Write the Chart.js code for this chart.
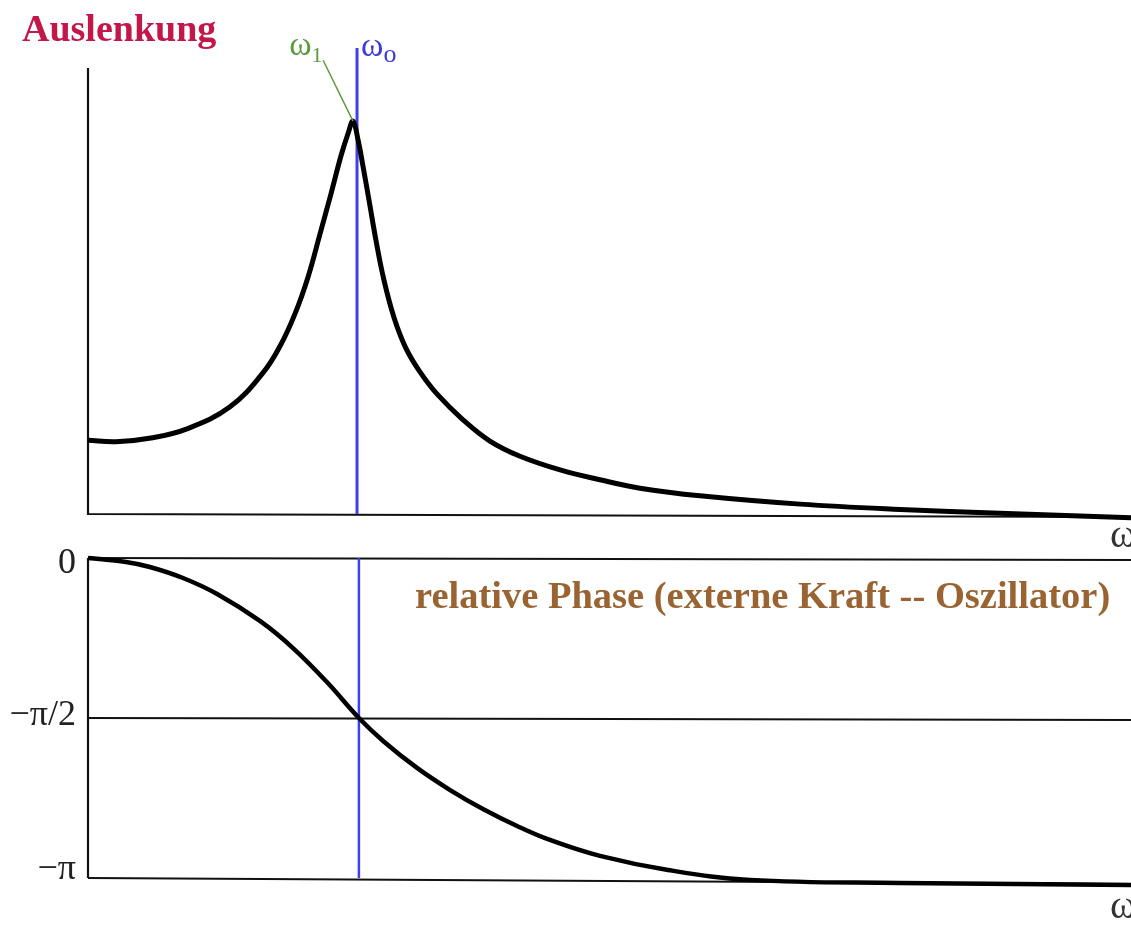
<!DOCTYPE html>
<html>
<head>
<meta charset="utf-8">
<script src="https://cdn.jsdelivr.net/npm/chart.js@4.4.1/dist/chart.umd.min.js"></script>
<style>
  html, body { margin: 0; padding: 0; background: #ffffff; }
  #top { position: absolute; left: 0; top: 0; width: 1131px; height: 560px; }
  #bottom { position: absolute; left: 0; top: 540px; width: 1131px; height: 385px; }
</style>
</head>
<body>
<div id="top"><canvas id="c1"></canvas></div>
<div id="bottom"><canvas id="c2"></canvas></div>
<script>
// ---- data (omega in units of omega0, amplitude in units of the static amplitude) ----
const omegaAmp = [0, 0.104, 0.234, 0.368, 0.528, 0.651, 0.714, 0.770, 0.818, 0.862, 0.903, 0.941, 0.967, 0.985,
  1.004, 1.022, 1.045, 1.071, 1.100, 1.138, 1.182, 1.234, 1.297, 1.394, 1.494, 1.606, 1.755, 1.903, 2.052, 2.275,
  2.647, 3.019, 3.390, 3.877];
const amplitude = [0.97, 0.95, 1.00, 1.12, 1.41, 1.86, 2.21, 2.64, 3.12, 3.68, 4.21, 4.72, 5.01, 5.17,
  4.92, 4.58, 4.12, 3.59, 3.08, 2.58, 2.18, 1.87, 1.58, 1.24, 0.96, 0.76, 0.58, 0.45, 0.34, 0.24,
  0.13, 0.06, 0.01, -0.05];

const omegaPhase = [0, 0.141, 0.230, 0.353, 0.480, 0.639, 0.762, 0.888, 1.007, 1.097, 1.223, 1.346, 1.468, 1.595,
  1.717, 1.903, 2.156, 2.461, 3.019, 3.877];
const phase = [0, -0.039, -0.088, -0.196, -0.353, -0.618, -0.884, -1.218, -1.571, -1.796, -2.061, -2.278, -2.464, -2.631,
  -2.768, -2.925, -3.063, -3.16, -3.19, -3.21];

const omega0 = 1.0;                 // eigenfrequency (blue line)
const omega1Peak = [0.985, 5.17];   // resonance peak
const omega1Label = [0.874, 5.97];  // end of green pointer
const ampAxisTop = 5.87;
const blueTop = 6.13;
const phaseTickValues = [0, -Math.PI / 2, -Math.PI];
const phaseTickLabels = ['0', '\u2212\u03c0/2', '\u2212\u03c0'];
const xMax = 3.877;

const serif = "'Liberation Serif', 'DejaVu Serif', serif";
const pts = (xs, ys) => xs.map((x, i) => ({ x: x, y: ys[i] }));

// ---- top chart ----
const topPlugin = {
  id: 'topDecor',
  beforeDatasetsDraw(chart) {
    const { ctx, chartArea: a, scales: { x, y } } = chart;
    ctx.save();
    ctx.strokeStyle = '#111';
    ctx.lineWidth = 2.2;
    ctx.beginPath();
    ctx.moveTo(a.left, y.getPixelForValue(ampAxisTop));
    ctx.lineTo(a.left, y.getPixelForValue(0));
    ctx.lineTo(a.right, y.getPixelForValue(0) + 3);
    ctx.stroke();
    ctx.restore();
  },
  afterDatasetsDraw(chart) {
    const { ctx, chartArea: a, scales: { x, y } } = chart;
    ctx.save();
    ctx.textBaseline = 'alphabetic';
    ctx.textAlign = 'left';
    // title
    ctx.fillStyle = '#c3174a';
    ctx.font = "bold 38px " + serif;
    ctx.fillText('Auslenkung', 22, 41);
    // omega_1 label
    const lx = x.getPixelForValue(omega1Label[0]);
    const ly = y.getPixelForValue(omega1Label[1]);
    ctx.fillStyle = '#5e9a3e';
    ctx.font = "34px " + serif;
    const w1 = ctx.measureText('\u03c9').width;
    ctx.fillText('\u03c9', lx - 34, ly - 5);
    ctx.font = "22px " + serif;
    ctx.fillText('1', lx - 34 + w1, ly + 2);
    // omega_o label
    const bx = x.getPixelForValue(omega0);
    const by = y.getPixelForValue(blueTop);
    ctx.fillStyle = '#3b3bd8';
    ctx.font = "34px " + serif;
    const w0 = ctx.measureText('\u03c9').width;
    ctx.fillText('\u03c9', bx + 4, by + 8);
    ctx.font = "26px " + serif;
    ctx.fillText('o', bx + 4 + w0, by + 14);
    // axis name
    ctx.fillStyle = '#333';
    ctx.font = "40px " + serif;
    ctx.fillText('\u03c9', 1110, a.bottom + 33);
    ctx.restore();
  }
};

new Chart(document.getElementById('c1'), {
  type: 'scatter',
  data: {
    datasets: [
      { data: pts([omega0, omega0], [0, blueTop]), showLine: true, borderColor: '#3f3ff0', borderWidth: 3,
        pointRadius: 0, clip: false, order: 2 },
      { data: pts(omegaAmp, amplitude), showLine: true, borderColor: '#000', borderWidth: 5,
        tension: 0.4, pointRadius: 0, clip: false, order: 1 },
      { data: pts([omega1Peak[0], omega1Label[0]], [omega1Peak[1], omega1Label[1]]), showLine: true,
        borderColor: '#5e9a3e', borderWidth: 1.5, pointRadius: 0, clip: false, order: 0 }
    ]
  },
  options: {
    responsive: true, maintainAspectRatio: false, animation: false,
    layout: { padding: { left: 88, right: 0, top: 40, bottom: 46 } },
    plugins: { legend: { display: false }, tooltip: { enabled: false } },
    events: [],
    scales: {
      x: { type: 'linear', min: 0, max: xMax, display: false },
      y: { type: 'linear', min: 0, max: 474 / 76, display: false }
    }
  },
  plugins: [topPlugin]
});

// ---- bottom chart ----
const botPlugin = {
  id: 'botDecor',
  beforeDatasetsDraw(chart) {
    const { ctx, chartArea: a, scales: { x, y } } = chart;
    ctx.save();
    ctx.strokeStyle = '#111';
    ctx.lineWidth = 2.2;
    ctx.beginPath();
    ctx.moveTo(a.left, y.getPixelForValue(0));
    ctx.lineTo(a.left, y.getPixelForValue(-Math.PI));
    ctx.stroke();
    phaseTickValues.forEach((v, i) => {
      const py = y.getPixelForValue(v);
      ctx.beginPath();
      ctx.moveTo(a.left, py);
      ctx.lineTo(a.right, py + (i === 2 ? 6 : 2));
      ctx.stroke();
    });
    ctx.restore();
  },
  afterDatasetsDraw(chart) {
    const { ctx, chartArea: a, scales: { x, y } } = chart;
    ctx.save();
    ctx.fillStyle = '#222';
    ctx.font = "36px " + serif;
    ctx.textAlign = 'right';
    ctx.textBaseline = 'middle';
    const dy = [6, -2, -8];
    phaseTickValues.forEach((v, i) => {
      ctx.fillText(phaseTickLabels[i], a.left - 12, y.getPixelForValue(v) + dy[i]);
    });
    ctx.textAlign = 'left';
    ctx.textBaseline = 'alphabetic';
    ctx.fillStyle = '#9a6432';
    ctx.font = "bold 38.5px " + serif;
    ctx.fillText('relative Phase (externe Kraft -- Oszillator)', 415, a.top + 50);
    ctx.fillStyle = '#333';
    ctx.font = "40px " + serif;
    ctx.fillText('\u03c9', 1110, a.bottom + 40);
    ctx.restore();
  }
};

new Chart(document.getElementById('c2'), {
  type: 'scatter',
  data: {
    datasets: [
      { data: pts([omega0 + 0.007, omega0 + 0.007], [0, -Math.PI]), showLine: true, borderColor: '#3f3ff0',
        borderWidth: 2.5, pointRadius: 0, clip: false, order: 2 },
      { data: pts(omegaPhase, phase), showLine: true, borderColor: '#000', borderWidth: 4.5,
        tension: 0.4, pointRadius: 0, clip: false, order: 1 }
    ]
  },
  options: {
    responsive: true, maintainAspectRatio: false, animation: false,
    layout: { padding: { left: 88, right: 0, top: 18, bottom: 47 } },
    plugins: { legend: { display: false }, tooltip: { enabled: false } },
    events: [],
    scales: {
      x: { type: 'linear', min: 0, max: xMax, display: false },
      y: { type: 'linear', min: -Math.PI, max: 0, display: false }
    }
  },
  plugins: [botPlugin]
});
</script>
</body>
</html>
